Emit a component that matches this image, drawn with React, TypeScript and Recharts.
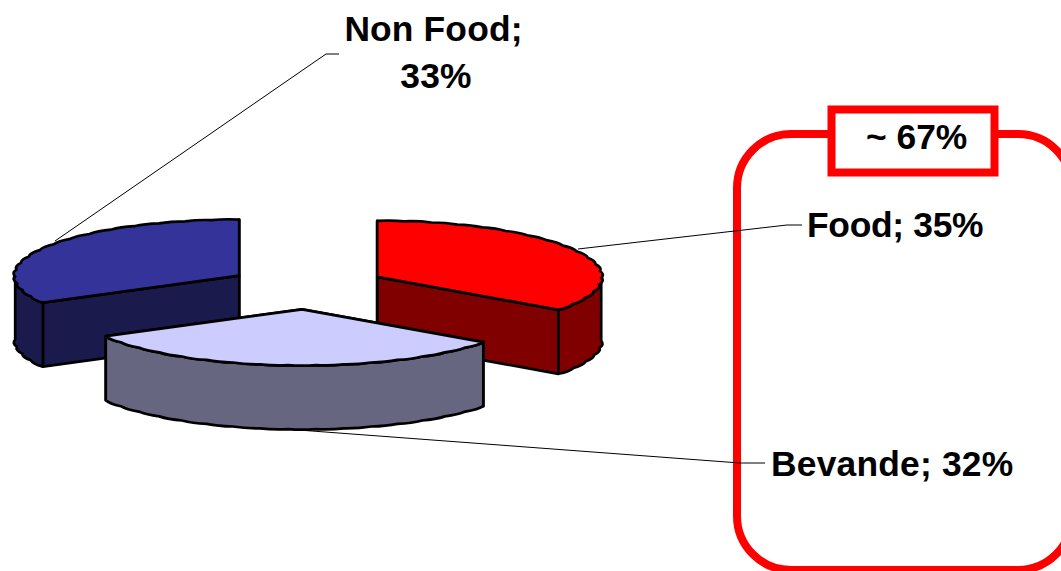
import React from "react";
import { PieChart, Pie, Customized } from "recharts";

// Draw order is back to front, so Bevande stays on top.
const sliceNames = ["Non Food", "Food", "Bevande"];
const sliceValues = [33, 35, 32];
const groupLabel = "~ 67%";

const topColors = ["#333399", "#ff0000", "#ccccff"];
const sideColors = ["#1a1a4d", "#800000", "#666680"];

const WIDTH = 1061;
const HEIGHT = 571;
const SQUASH = 0.25;
const DEPTH = 64;
const EXPLODE_X = 78.8;
const EXPLODE_Y = 22.3;
const FONT = "'Liberation Sans', Arial, sans-serif";
const FONT_SIZE = 35.4;

const data = sliceNames.map((name, i) => ({ name, value: sliceValues[i] }));

const labelLayouts = [
  { lines: (n: string, v: number) => [`${n};`, `${v}%`], x: 433.5, y: 41, dy: 47, xs: [0, 2.5], anchor: "middle", leader: [[55, 241], [326, 54], [339, 54]], spacing: 0.15 },
  { lines: (n: string, v: number) => [`${n}; ${v}%`], x: 807, y: 237, dy: 0, xs: [0], anchor: "start", leader: [[578, 249], [787, 225], [802, 225]], spacing: -0.3 },
  { lines: (n: string, v: number) => [`${n}; ${v}%`], x: 771, y: 476, dy: 0, xs: [0], anchor: "start", leader: [[285, 429], [740, 463], [765, 463]], spacing: 0.2 },
];

function Slice3D(props: any) {
  const { cx, cy, outerRadius: R, startAngle, endAngle, index } = props;
  const mid = (((startAngle + endAngle) / 2) * Math.PI) / 180;
  const ox = cx + EXPLODE_X * Math.cos(mid);
  const oy = cy - EXPLODE_Y * Math.sin(mid);
  const sweep = Math.abs(endAngle - startAngle);
  const t0 = (((90 - startAngle) % 360) + 360) % 360;
  const t1 = t0 + sweep;

  const pt = (t: number, dy: number, k = 1) => {
    const r = (t * Math.PI) / 180;
    return [ox + R * k * Math.sin(r), oy - R * k * SQUASH * Math.cos(r) + dy];
  };
  const f = (p: number[]) => `${p[0].toFixed(1)} ${p[1].toFixed(1)}`;
  const arc = (a: number, b: number, dy: number) => {
    const n = Math.max(1, Math.round(Math.abs(b - a) / 7));
    let s = "";
    for (let i = 0; i < n; i++) {
      const u = a + ((b - a) * i) / n;
      const v = a + ((b - a) * (i + 1)) / n;
      s += `Q${f(pt((u + v) / 2, dy, 1.018))} ${f(pt(v, dy))}`;
    }
    return s;
  };
  const cut = (t: number) =>
    `M${f([ox, oy])}L${f(pt(t, 0))}L${f(pt(t, DEPTH))}L${f([ox, oy + DEPTH])}Z`;

  const w0 = Math.max(t0, 90);
  const w1 = Math.min(t1, 270);
  const common = { stroke: "#000", strokeWidth: 2.7, strokeLinejoin: "round" as const };

  return (
    <g>
      <path d={cut(t1)} fill={sideColors[index]} {...common} />
      <path d={cut(t0)} fill={sideColors[index]} {...common} />
      {w1 > w0 && (
        <path
          d={`M${f(pt(w0, 0))}${arc(w0, w1, 0)}L${f(pt(w1, DEPTH))}${arc(w1, w0, DEPTH)}Z`}
          fill={sideColors[index]}
          {...common}
        />
      )}
      <path d={`M${f([ox, oy])}L${f(pt(t0, 0))}${arc(t0, t1, 0)}Z`} fill={topColors[index]} {...common} />
    </g>
  );
}

function renderLabel(props: any) {
  const { index, name, value } = props;
  const l = labelLayouts[index];
  return (
    <g key={name}>
      <polyline points={l.leader.map((p) => p.join(",")).join(" ")} fill="none" stroke="#000" strokeWidth={1} />
      {l.lines(name, value).map((t, i) => (
        <text
          key={t}
          x={l.x + l.xs[i]}
          y={l.y + i * l.dy}
          textAnchor={l.anchor as any}
          fontFamily={FONT}
          fontWeight="bold"
          fontSize={FONT_SIZE}
          letterSpacing={l.spacing}
          fill="#000"
        >
          {t}
        </text>
      ))}
    </g>
  );
}

function Frame() {
  return (
    <g>
      <rect x={737} y={134} width={335} height={436} rx={54} ry={54} fill="none" stroke="#ff0000" strokeWidth={8} />
      <rect x={831.5} y={109.5} width={163} height={63} fill="#fff" stroke="#ff0000" strokeWidth={8} />
      <text x={866} y={149} fontFamily={FONT} fontWeight="bold" fontSize={FONT_SIZE} fill="#000">
        {groupLabel}
      </text>
    </g>
  );
}

export default function App() {
  return (
    <div style={{ position: "absolute", left: 0, top: 0, width: WIDTH, height: HEIGHT, overflow: "hidden", background: "#fff" }}>
      <PieChart width={WIDTH} height={HEIGHT} margin={{ top: 0, right: 0, bottom: 0, left: 0 }}>
        <Customized component={Frame} />
        <Pie
          data={data}
          dataKey="value"
          nameKey="name"
          cx={307}
          cy={287}
          innerRadius={0}
          outerRadius={224}
          startAngle={208.8}
          endAngle={-151.2}
          paddingAngle={0}
          shape={Slice3D}
          label={renderLabel}
          labelLine={false}
          isAnimationActive={false}
        />
      </PieChart>
    </div>
  );
}
